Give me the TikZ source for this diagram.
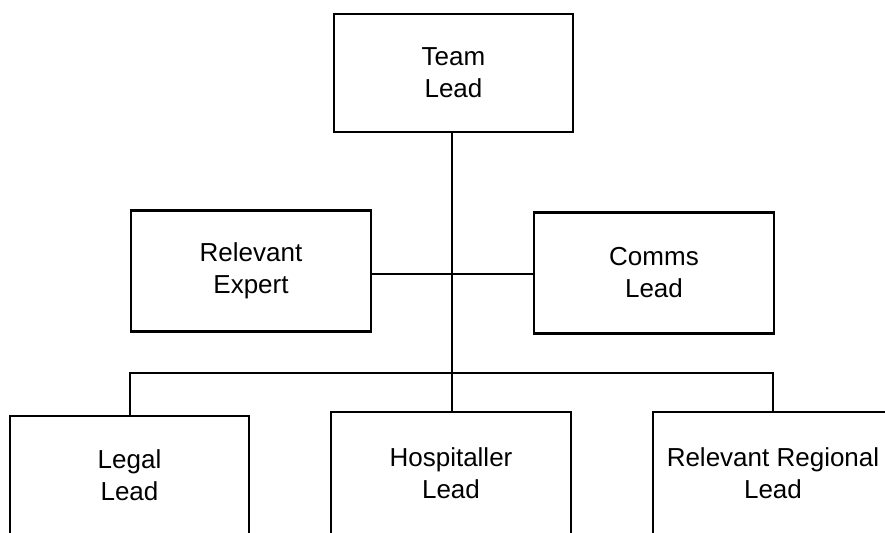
\documentclass[tikz,border=0pt]{standalone}
\usepackage{fontspec}
\setmainfont{Liberation Sans}
\newlength{\du}
\setlength{\du}{0.5pt}
\tikzset{
  rolebox/.style={draw=black, fill=white, line width=2.5\du, inner sep=0pt,
    align=center, font=\fontsize{13}{16}\selectfont},
  link/.style={draw=black, line width=2\du}
}
\begin{document}
\begin{tikzpicture}
\pgftransformxscale{1.000000}
\pgftransformyscale{-1.000000}
\useasboundingbox (0\du,0\du) rectangle (885\du,532\du);
\clip (0\du,0\du) rectangle (885\du,532\du);
% top
\node[rolebox, minimum width=239\du, minimum height=118\du] (team) at (453.5\du,73\du) {Team\\Lead};
% middle row
\node[rolebox, minimum width=240\du, minimum height=121\du] (expert) at (251\du,271\du) {Relevant\\Expert};
\node[rolebox, minimum width=240\du, minimum height=121\du] (comms) at (654\du,273\du) {Comms\\Lead};
% bottom row
\node[rolebox, minimum width=239\du, minimum height=118\du] (legal) at (129.5\du,475\du) {Legal\\Lead};
\node[rolebox, minimum width=240\du, minimum height=122\du] (hosp) at (451\du,473\du) {Hospitaller\\Lead};
\node[rolebox, minimum width=240\du, minimum height=122\du] (regional) at (773\du,473\du) {Relevant Regional\\Lead};
% connectors
\coordinate (bar) at (452\du,373\du);
\coordinate (side) at (452\du,274\du);
\draw[link] (bar |- team.south) -- (bar) -- (bar |- hosp.north);
\draw[link] (expert.east |- side) -- (comms.west |- side);
\draw[link] (legal.north) -- (legal.north |- bar) -- (regional.north |- bar) -- (regional.north);
\end{tikzpicture}
\end{document}
